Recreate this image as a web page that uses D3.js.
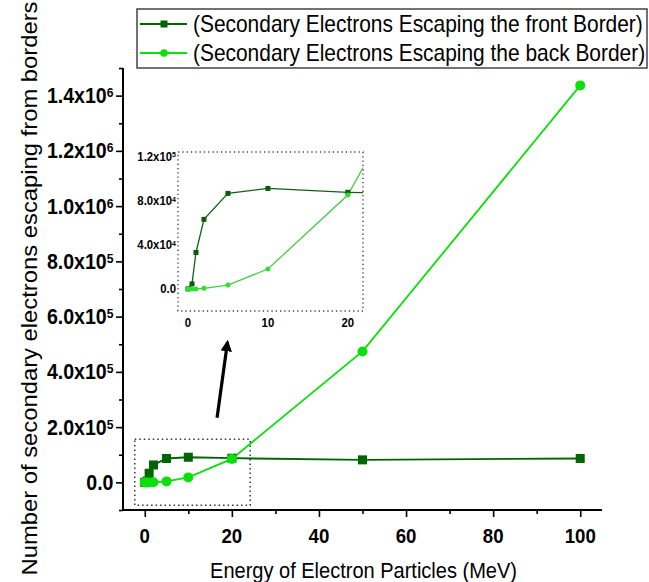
<!DOCTYPE html>
<html>
<head>
<meta charset="utf-8">
<script src="https://cdn.jsdelivr.net/npm/d3@7"></script>
<style>
  body { margin: 0; background: #fff; }
  svg { display: block; }
  text { font-family: "Liberation Sans", Arial, sans-serif; fill: #000; }
</style>
</head>
<body>
<svg id="chart" width="649" height="582"></svg>
<script>
// Beam energy (MeV) and escaping secondary-electron counts
const energy = [0, 0.5, 1, 2, 5, 10, 20, 50, 100];
const frontBorder = [0, 4500, 33000, 63000, 86500, 91000, 87500, 81500, 86500];
const backBorder = [0, 0, 0, 500, 3500, 18000, 85000, 474000, 1437000];

const seriesNames = [
  "(Secondary Electrons Escaping the front Border)",
  "(Secondary Electrons Escaping the back Border)"
];
const xTicks = [0, 20, 40, 60, 80, 100];
const xMinorTicks = [10, 30, 50, 70, 90];
const yTicks = [0, 2e5, 4e5, 6e5, 8e5, 1e6, 1.2e6, 1.4e6];
const yMinorTicks = [-1e5, 1e5, 3e5, 5e5, 7e5, 9e5, 1.1e6, 1.3e6, 1.5e6];
const insetXTicks = [0, 10, 20];
const insetYTicks = [0, 4e4, 8e4, 1.2e5];
const xTitle = "Energy of Electron Particles (MeV)";
const yTitle = "Number of secondary electrons escaping from borders";

const FRONT = "#006400";
const BACK = "#0be00b";
const SQUISH = 0.91;

const svg = d3.select("#chart");
const front = energy.map((e, i) => ({ x: e, y: frontBorder[i] }));
const back = energy.map((e, i) => ({ x: e, y: backBorder[i] }));

const x = d3.scaleLinear().domain([-5, 105]).range([123, 602]);
const y = d3.scaleLinear().domain([-1e5, 1.5e6]).range([510, 68]);

// label "m.mx10^e" with a raised exponent
function sciText(sel, v) {
  if (v === 0) { sel.text("0.0"); return; }
  const e = Math.floor(Math.log10(v) + 1e-9);
  const m = v / Math.pow(10, e);
  sel.append("tspan").text(m.toFixed(1) + "x10");
  sel.append("tspan").attr("dy", "-0.45em").attr("font-size", "0.62em").text(e);
}

// ---- axes
const gx = svg.append("g").attr("transform", "translate(0,510)");
gx.call(d3.axisBottom(x).tickValues(xTicks).tickSize(7).tickSizeOuter(0).tickFormat(""));
gx.append("g").call(d3.axisBottom(x).tickValues(xMinorTicks).tickSize(4).tickSizeOuter(0).tickFormat(""))
  .select(".domain").remove();
gx.selectAll("path.domain").attr("stroke-width", 2).attr("d", `M${x.range()[0]},0H${x.range()[1]}`);
gx.selectAll(".tick line").attr("stroke-width", 1.6);
xTicks.forEach(t => {
  gx.append("g").attr("transform", `translate(${x(t)},32.5)`)
    .append("text").attr("transform", `scale(${SQUISH},1)`)
    .attr("text-anchor", "middle").attr("font-size", 20.5).attr("font-weight", "bold").text(t);
});

const gy = svg.append("g").attr("transform", "translate(123,0)");
gy.call(d3.axisLeft(y).tickValues(yTicks).tickSize(7).tickSizeOuter(0).tickFormat(""));
gy.append("g").call(d3.axisLeft(y).tickValues(yMinorTicks).tickSize(4).tickSizeOuter(0).tickFormat(""))
  .select(".domain").remove();
gy.selectAll("path.domain").attr("stroke-width", 2).attr("d", `M0,${y.range()[1]}V${y.range()[0]}`);
gy.selectAll(".tick line").attr("stroke-width", 1.6);
yTicks.forEach(t => {
  gy.append("g").attr("transform", `translate(-9.5,${y(t) + 7.5})`)
    .append("text").attr("transform", `scale(${SQUISH},1)`)
    .attr("text-anchor", "end").attr("font-size", 21.5).attr("font-weight", "bold")
    .call(sciText, t);
});

// ---- axis titles
svg.append("text").attr("transform", `translate(363.5,578) scale(${SQUISH},1)`)
  .attr("text-anchor", "middle").attr("font-size", 22).text(xTitle);
svg.append("text").attr("transform", `translate(36.5,288.5) scale(${SQUISH},1) rotate(-90)`)
  .attr("text-anchor", "middle").attr("font-size", 23.8).text(yTitle);

// ---- main series
const line = d3.line().x(d => x(d.x)).y(d => y(d.y));
svg.append("path").datum(front).attr("d", line)
  .attr("fill", "none").attr("stroke", FRONT).attr("stroke-width", 1.8);
svg.append("path").datum(back).attr("d", line)
  .attr("fill", "none").attr("stroke", BACK).attr("stroke-width", 1.8);
svg.append("g").selectAll("rect").data(front).join("rect")
  .attr("x", d => x(d.x) - 4.5).attr("y", d => y(d.y) - 4.5)
  .attr("width", 9).attr("height", 9).attr("fill", FRONT);
svg.append("g").selectAll("circle").data(back).join("circle")
  .attr("cx", d => x(d.x)).attr("cy", d => y(d.y)).attr("r", 5).attr("fill", BACK);

// ---- zoom box around the low-energy region and arrow to the inset
svg.append("rect")
  .attr("x", x(-2.3)).attr("y", y(1.56e5))
  .attr("width", x(24.2) - x(-2.3)).attr("height", y(-8.3e4) - y(1.56e5))
  .attr("fill", "none").attr("stroke", "#333").attr("stroke-width", 1.5)
  .attr("stroke-dasharray", "1.5,3");

svg.append("defs").append("marker").attr("id", "arrowhead")
  .attr("viewBox", "0 0 10 10").attr("refX", 8).attr("refY", 5)
  .attr("markerWidth", 3.6).attr("markerHeight", 3.6).attr("orient", "auto")
  .append("path").attr("d", "M0,0L10,5L0,10Z").attr("fill", "#000");
svg.append("line")
  .attr("x1", x(16.6)).attr("y1", y(2.34e5)).attr("x2", x(19.0)).attr("y2", y(5.08e5))
  .attr("stroke", "#000").attr("stroke-width", 3.2).attr("marker-end", "url(#arrowhead)");

// ---- inset: magnified view of 0-22 MeV
const ix = d3.scaleLinear().domain([-1.25, 21.9]).range([178, 363]);
const iy = d3.scaleLinear().domain([-2e4, 1.24e5]).range([311, 152]);
const inset = svg.append("g");
inset.append("clipPath").attr("id", "insetClip").append("rect")
  .attr("x", ix.range()[0]).attr("y", iy.range()[1])
  .attr("width", ix.range()[1] - ix.range()[0]).attr("height", iy.range()[0] - iy.range()[1]);
inset.append("rect")
  .attr("x", ix.range()[0]).attr("y", iy.range()[1])
  .attr("width", ix.range()[1] - ix.range()[0]).attr("height", iy.range()[0] - iy.range()[1])
  .attr("fill", "#fff").attr("stroke", "#444").attr("stroke-width", 1.4)
  .attr("stroke-dasharray", "1.3,3");

const iline = d3.line().x(d => ix(d.x)).y(d => iy(d.y));
const plotArea = inset.append("g").attr("clip-path", "url(#insetClip)");
plotArea.append("path").datum(front).attr("d", iline)
  .attr("fill", "none").attr("stroke", "#14601a").attr("stroke-width", 1.3);
plotArea.append("path").datum(back).attr("d", iline)
  .attr("fill", "none").attr("stroke", "#44cc44").attr("stroke-width", 1.3);
plotArea.append("g").selectAll("rect").data(front).join("rect")
  .attr("x", d => ix(d.x) - 2.5).attr("y", d => iy(d.y) - 2.5)
  .attr("width", 5).attr("height", 5).attr("fill", "#0b5a0b");
plotArea.append("g").selectAll("circle").data(back).join("circle")
  .attr("cx", d => ix(d.x)).attr("cy", d => iy(d.y)).attr("r", 2.5).attr("fill", "#2ee02e");

insetXTicks.forEach(t => {
  inset.append("g").attr("transform", `translate(${ix(t)},327)`)
    .append("text").attr("transform", `scale(${SQUISH},1)`)
    .attr("text-anchor", "middle").attr("font-size", 12.5).attr("font-weight", "bold").text(t);
});
insetYTicks.forEach(t => {
  inset.append("g").attr("transform", `translate(176,${iy(t) + 4.5})`)
    .append("text").attr("transform", `scale(${SQUISH},1)`)
    .attr("text-anchor", "end").attr("font-size", 12.5).attr("font-weight", "bold")
    .call(sciText, t);
});

// ---- legend
const legend = svg.append("g");
legend.append("rect").attr("x", 137).attr("y", 9).attr("width", 510).attr("height", 59)
  .attr("fill", "#fff").attr("stroke", "#444").attr("stroke-width", 1.5);
[[FRONT, "square", 24], [BACK, "circle", 53]].forEach(([col, shape, cy], i) => {
  legend.append("line").attr("x1", 140).attr("x2", 187).attr("y1", cy).attr("y2", cy)
    .attr("stroke", col).attr("stroke-width", 1.8);
  if (shape === "square") {
    legend.append("rect").attr("x", 160.5).attr("y", cy - 3.5).attr("width", 7).attr("height", 7).attr("fill", col);
  } else {
    legend.append("circle").attr("cx", 164).attr("cy", cy).attr("r", 3.8).attr("fill", col);
  }
  legend.append("text").attr("transform", `translate(193,${cy + 7.5}) scale(${SQUISH},1)`)
    .attr("font-size", 23).text(seriesNames[i]);
});
</script>
</body>
</html>
